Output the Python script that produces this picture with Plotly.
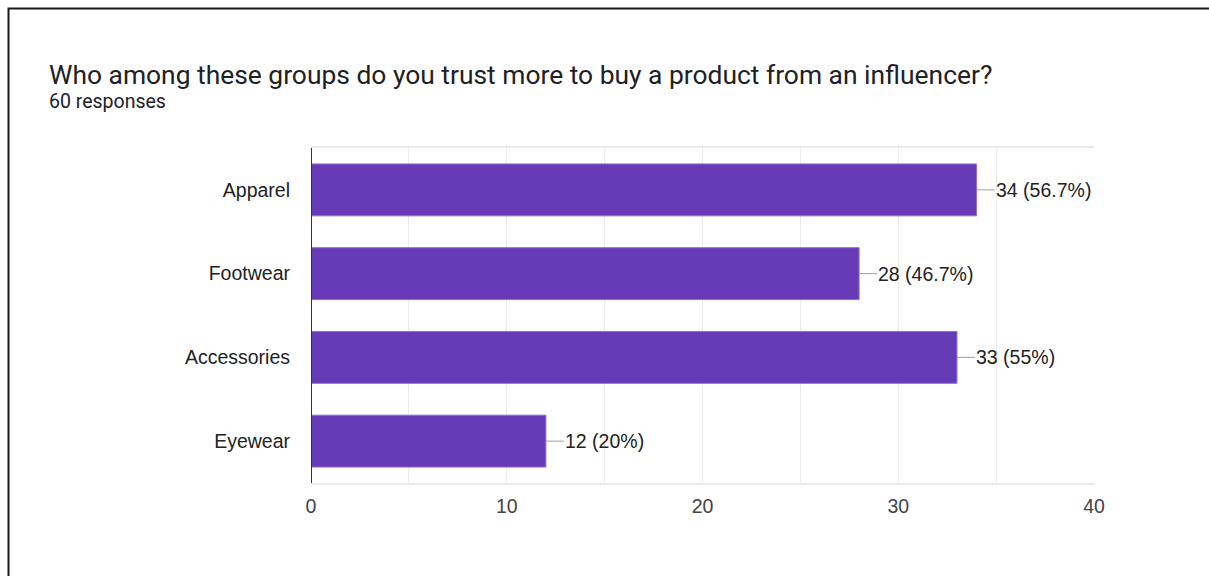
import plotly.graph_objects as go

categories = ["Apparel", "Footwear", "Accessories", "Eyewear"]
counts = [34, 28, 33, 12]
percent_labels = ["56.7%", "46.7%", "55%", "20%"]
total_responses = 60
title_text = "Who among these groups do you trust more to buy a product from an influencer?"
x_ticks = [0, 10, 20, 30, 40]

BAR_COLOR = "#673ab7"
HEAD_FONT = "Roboto, Arial, sans-serif"
AXIS_FONT = "Liberation Sans, Arial, Helvetica, sans-serif"

fig = go.Figure()
fig.add_trace(go.Bar(
    x=counts,
    y=categories,
    orientation="h",
    width=0.62,
    marker=dict(color=BAR_COLOR, line=dict(color="#8f6fd0", width=1)),
    hoverinfo="skip",
))

# leader lines and value labels to the right of each bar
leader = 0.92
for cat, v, p in zip(categories, counts, percent_labels):
    fig.add_shape(type="line", xref="x", yref="y", x0=v, x1=v + leader, y0=cat, y1=cat,
                  line=dict(color="#9e9e9e", width=1))
    fig.add_annotation(x=v + leader, y=cat, xref="x", yref="y", text=f"{v} ({p})",
                       showarrow=False, xanchor="left", xshift=-1,
                       font=dict(family=AXIS_FONT, size=19.5, color="#222222"))

# title and response count
fig.add_annotation(x=47, y=576 - 75, xref="paper", yref="paper", text=title_text,
                   showarrow=False, xanchor="left", yanchor="middle",
                   font=dict(family=HEAD_FONT, size=26.4, color="#202124"))
fig.add_annotation(x=47, y=576 - 102, xref="paper", yref="paper",
                   text=f"{total_responses} responses", showarrow=False,
                   xanchor="left", yanchor="middle",
                   font=dict(family=HEAD_FONT, size=19.5, color="#202124"))

# outer frame
fig.add_shape(type="rect", xref="paper", yref="paper", x0=8.5, x1=1260, y0=-50, y1=576 - 8.5,
              line=dict(color="#1a1a1a", width=2), fillcolor="rgba(0,0,0,0)", layer="above")

fig.update_layout(
    width=1209, height=576,
    margin=dict(l=311, r=115, t=148, b=93, autoexpand=False),
    paper_bgcolor="white", plot_bgcolor="white",
    showlegend=False,
    bargap=0.38,
    font=dict(family=AXIS_FONT),
    xaxis=dict(
        range=[0, 40], tickvals=x_ticks, ticktext=[str(t) for t in x_ticks],
        showgrid=True, gridcolor="#ebebeb", gridwidth=1,
        minor=dict(dtick=5, showgrid=True, gridcolor="#ebebeb", gridwidth=1),
        zeroline=False, showline=True, linecolor="#ebebeb", linewidth=2, mirror=True,
        tickfont=dict(family=AXIS_FONT, size=19.5, color="#444444"),
        ticks="", ticklabelstandoff=5, fixedrange=True,
    ),
    yaxis=dict(
        categoryorder="array", categoryarray=categories[::-1],
        showgrid=False, zeroline=False, showline=False,
        tickfont=dict(family=AXIS_FONT, size=19.5, color="#222222"),
        ticks="", ticklabelstandoff=20, fixedrange=True,
    ),
)

# dark baseline at zero
fig.add_shape(type="line", xref="x", yref="paper", x0=0, x1=0, y0=0, y1=1,
              line=dict(color="#333333", width=2), layer="above")

# convert pixel positions of the header/frame to paper coordinates
plot_w = 1209 - 311 - 115
plot_h = 576 - 148 - 93
for ann in fig.layout.annotations:
    if ann.xref == "paper":
        ann.x = (ann.x - 311) / plot_w
        ann.y = (ann.y - 93) / plot_h
for shp in fig.layout.shapes:
    if shp.type == "rect":
        shp.x0 = (shp.x0 - 311) / plot_w
        shp.x1 = (shp.x1 - 311) / plot_w
        shp.y0 = (shp.y0 - 93) / plot_h
        shp.y1 = (shp.y1 - 93) / plot_h

fig.write_html("out.html", config={"displayModeBar": False})
